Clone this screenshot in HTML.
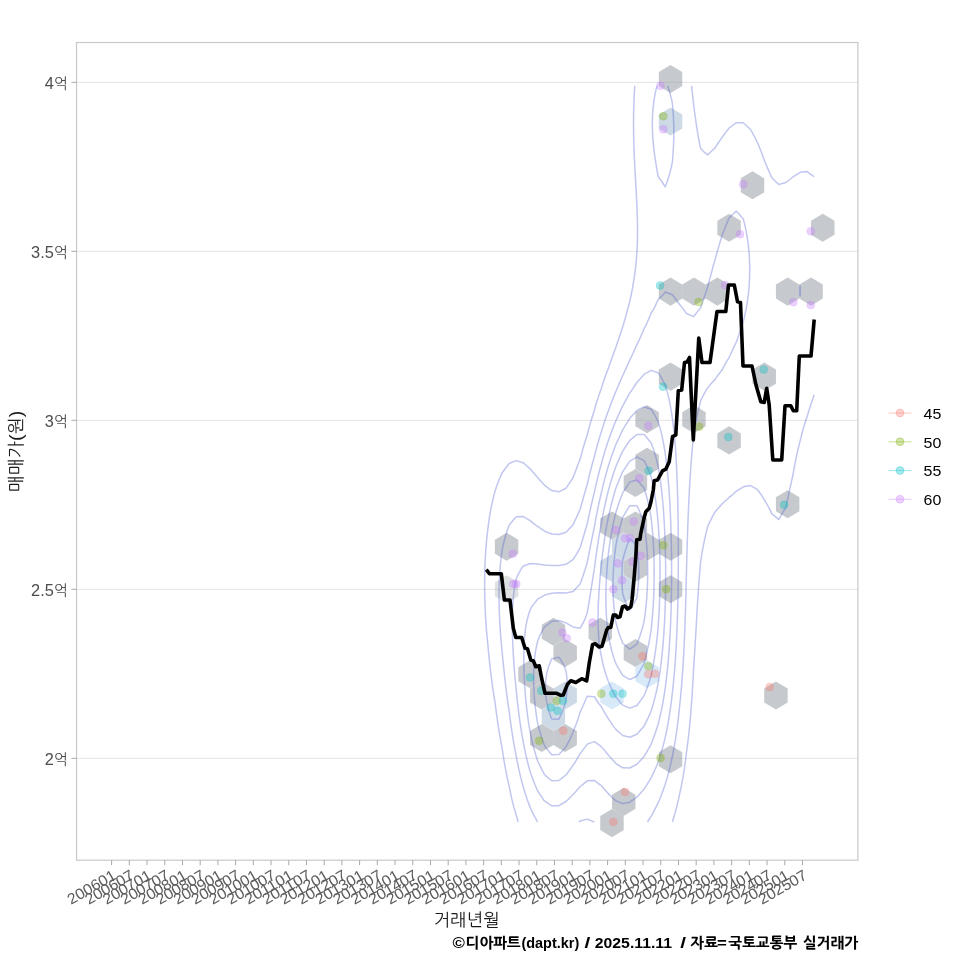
<!DOCTYPE html>
<html lang="ko"><head><meta charset="utf-8"><title>매매가 추이</title>
<style>html,body{margin:0;padding:0;background:#fff}body{width:960px;height:960px;overflow:hidden}svg{display:block}</style></head>
<body>
<svg width="960" height="960" viewBox="0 0 960 960" font-family='"Liberation Sans", "NanumGothic", "Noto Sans CJK KR", sans-serif'>
<rect width="960" height="960" fill="#fff"/>
<line x1="76.55" x2="857.9" y1="82.3" y2="82.3" stroke="#e3e3e3" stroke-width="1"/>
<line x1="76.55" x2="857.9" y1="251.3" y2="251.3" stroke="#e3e3e3" stroke-width="1"/>
<line x1="76.55" x2="857.9" y1="420.3" y2="420.3" stroke="#e3e3e3" stroke-width="1"/>
<line x1="76.55" x2="857.9" y1="589.3" y2="589.3" stroke="#e3e3e3" stroke-width="1"/>
<line x1="76.55" x2="857.9" y1="758.3" y2="758.3" stroke="#e3e3e3" stroke-width="1"/>
<clipPath id="pc"><rect x="76.55" y="42.5" width="781.35" height="817.7"/></clipPath>
<g clip-path="url(#pc)">
<polygon points="670.54,64.95 682.26,71.97 682.26,86.03 670.54,93.05 658.82,86.03 658.82,71.97" fill="#8d949b" fill-opacity="0.5"/>
<polygon points="670.54,107.47 682.26,114.5 682.26,128.55 670.54,135.57 658.82,128.55 658.82,114.5" fill="#9db5cc" fill-opacity="0.5"/>
<polygon points="752.51,171.25 764.23,178.28 764.23,192.33 752.51,199.35 740.79,192.33 740.79,178.28" fill="#8d949b" fill-opacity="0.5"/>
<polygon points="729.09,213.77 740.81,220.8 740.81,234.85 729.09,241.87 717.37,234.85 717.37,220.8" fill="#8d949b" fill-opacity="0.5"/>
<polygon points="822.77,213.77 834.49,220.8 834.49,234.85 822.77,241.87 811.05,234.85 811.05,220.8" fill="#8d949b" fill-opacity="0.5"/>
<polygon points="670.54,277.55 682.26,284.58 682.26,298.62 670.54,305.65 658.82,298.62 658.82,284.58" fill="#8d949b" fill-opacity="0.5"/>
<polygon points="693.96,277.55 705.68,284.58 705.68,298.62 693.96,305.65 682.24,298.62 682.24,284.58" fill="#8d949b" fill-opacity="0.5"/>
<polygon points="717.38,277.55 729.1,284.58 729.1,298.62 717.38,305.65 705.66,298.62 705.66,284.58" fill="#8d949b" fill-opacity="0.5"/>
<polygon points="787.64,277.55 799.36,284.58 799.36,298.62 787.64,305.65 775.92,298.62 775.92,284.58" fill="#8d949b" fill-opacity="0.5"/>
<polygon points="811.06,277.55 822.78,284.58 822.78,298.62 811.06,305.65 799.34,298.62 799.34,284.58" fill="#8d949b" fill-opacity="0.5"/>
<polygon points="670.54,362.59 682.26,369.62 682.26,383.67 670.54,390.69 658.82,383.67 658.82,369.62" fill="#8d949b" fill-opacity="0.5"/>
<polygon points="764.22,362.59 775.94,369.62 775.94,383.67 764.22,390.69 752.5,383.67 752.5,369.62" fill="#8d949b" fill-opacity="0.5"/>
<polygon points="647.12,405.11 658.84,412.14 658.84,426.19 647.12,433.21 635.4,426.19 635.4,412.14" fill="#8d949b" fill-opacity="0.5"/>
<polygon points="693.96,405.11 705.68,412.14 705.68,426.19 693.96,433.21 682.24,426.19 682.24,412.14" fill="#8d949b" fill-opacity="0.5"/>
<polygon points="729.09,426.37 740.81,433.4 740.81,447.44 729.09,454.47 717.37,447.44 717.37,433.4" fill="#8d949b" fill-opacity="0.5"/>
<polygon points="647.12,447.63 658.84,454.66 658.84,468.7 647.12,475.73 635.4,468.7 635.4,454.66" fill="#8d949b" fill-opacity="0.5"/>
<polygon points="635.41,468.89 647.13,475.92 647.13,489.97 635.41,496.99 623.69,489.97 623.69,475.92" fill="#8d949b" fill-opacity="0.5"/>
<polygon points="787.64,490.15 799.36,497.18 799.36,511.23 787.64,518.25 775.92,511.23 775.92,497.18" fill="#8d949b" fill-opacity="0.5"/>
<polygon points="611.99,511.41 623.71,518.44 623.71,532.49 611.99,539.51 600.27,532.49 600.27,518.44" fill="#8d949b" fill-opacity="0.5"/>
<polygon points="635.41,511.41 647.13,518.44 647.13,532.49 635.41,539.51 623.69,532.49 623.69,518.44" fill="#8d949b" fill-opacity="0.5"/>
<polygon points="506.6,532.67 518.32,539.7 518.32,553.75 506.6,560.77 494.88,553.75 494.88,539.7" fill="#8d949b" fill-opacity="0.5"/>
<polygon points="623.7,532.67 635.42,539.7 635.42,553.75 623.7,560.77 611.98,553.75 611.98,539.7" fill="#9db5cc" fill-opacity="0.5"/>
<polygon points="647.12,532.67 658.84,539.7 658.84,553.75 647.12,560.77 635.4,553.75 635.4,539.7" fill="#8d949b" fill-opacity="0.5"/>
<polygon points="670.54,532.67 682.26,539.7 682.26,553.75 670.54,560.77 658.82,553.75 658.82,539.7" fill="#8d949b" fill-opacity="0.5"/>
<polygon points="611.99,553.93 623.71,560.96 623.71,575 611.99,582.03 600.27,575 600.27,560.96" fill="#9db5cc" fill-opacity="0.5"/>
<polygon points="635.41,553.93 647.13,560.96 647.13,575 635.41,582.03 623.69,575 623.69,560.96" fill="#8d949b" fill-opacity="0.5"/>
<polygon points="506.6,575.19 518.32,582.22 518.32,596.26 506.6,603.29 494.88,596.26 494.88,582.22" fill="#8d949b" fill-opacity="0.28"/>
<polygon points="623.7,575.19 635.42,582.22 635.42,596.26 623.7,603.29 611.98,596.26 611.98,582.22" fill="#9db5cc" fill-opacity="0.5"/>
<polygon points="670.54,575.19 682.26,582.22 682.26,596.26 670.54,603.29 658.82,596.26 658.82,582.22" fill="#8d949b" fill-opacity="0.5"/>
<polygon points="553.44,617.71 565.16,624.74 565.16,638.78 553.44,645.81 541.72,638.78 541.72,624.74" fill="#8d949b" fill-opacity="0.5"/>
<polygon points="600.28,617.71 612,624.74 612,638.78 600.28,645.81 588.56,638.78 588.56,624.74" fill="#8d949b" fill-opacity="0.5"/>
<polygon points="565.15,638.97 576.87,646 576.87,660.05 565.15,667.07 553.43,660.05 553.43,646" fill="#8d949b" fill-opacity="0.5"/>
<polygon points="635.41,638.97 647.13,646 647.13,660.05 635.41,667.07 623.69,660.05 623.69,646" fill="#8d949b" fill-opacity="0.5"/>
<polygon points="530.02,660.23 541.74,667.26 541.74,681.31 530.02,688.33 518.3,681.31 518.3,667.26" fill="#8d949b" fill-opacity="0.5"/>
<polygon points="647.12,660.23 658.84,667.26 658.84,681.31 647.12,688.33 635.4,681.31 635.4,667.26" fill="#a9d0f0" fill-opacity="0.45"/>
<polygon points="541.73,681.49 553.45,688.52 553.45,702.57 541.73,709.59 530.01,702.57 530.01,688.52" fill="#8d949b" fill-opacity="0.5"/>
<polygon points="565.15,681.49 576.87,688.52 576.87,702.57 565.15,709.59 553.43,702.57 553.43,688.52" fill="#9db5cc" fill-opacity="0.5"/>
<polygon points="611.99,681.49 623.71,688.52 623.71,702.57 611.99,709.59 600.27,702.57 600.27,688.52" fill="#a9d0f0" fill-opacity="0.45"/>
<polygon points="775.93,681.49 787.65,688.52 787.65,702.57 775.93,709.59 764.21,702.57 764.21,688.52" fill="#8d949b" fill-opacity="0.5"/>
<polygon points="553.44,702.75 565.16,709.78 565.16,723.83 553.44,730.85 541.72,723.83 541.72,709.78" fill="#9db5cc" fill-opacity="0.5"/>
<polygon points="541.73,724.01 553.45,731.04 553.45,745.09 541.73,752.11 530.01,745.09 530.01,731.04" fill="#8d949b" fill-opacity="0.5"/>
<polygon points="565.15,724.01 576.87,731.04 576.87,745.09 565.15,752.11 553.43,745.09 553.43,731.04" fill="#8d949b" fill-opacity="0.5"/>
<polygon points="670.54,745.27 682.26,752.3 682.26,766.35 670.54,773.37 658.82,766.35 658.82,752.3" fill="#8d949b" fill-opacity="0.5"/>
<polygon points="623.7,787.79 635.42,794.82 635.42,808.87 623.7,815.89 611.98,808.87 611.98,794.82" fill="#8d949b" fill-opacity="0.5"/>
<polygon points="611.99,809.05 623.71,816.08 623.71,830.12 611.99,837.15 600.27,830.12 600.27,816.08" fill="#8d949b" fill-opacity="0.5"/>
<path d="M691.58 85.8 L692.43 93.24 L693.21 100.67 L693.62 104.8 L694.08 108.11 L695.09 115.55 L696.14 122.98 L697.25 130.42 L698.51 137.85 L699.98 145.29 L700.71 148.53 L704.79 152.73 L707.81 154.94 L709.84 152.73 L714.9 148.12 L716.63 145.29 L721.77 137.85 L721.99 137.56 L727.25 130.42 L729.08 128.11 L735.78 122.98 L736.18 122.68 L743.27 122.74 L743.56 122.98 L750.36 129.19 L751.09 130.42 L755.17 137.85 L757.46 142.5 L758.64 145.29 L761.58 152.73 L764.28 160.16 L764.55 160.96 L767.43 167.6 L770.6 175.04 L771.64 177.49 L776.63 182.47 L778.74 184.41 L785.83 182.5 L785.86 182.47 L792.92 176.99 L795.85 175.04 L800.01 172.37 L807.11 171.58 L811.94 175.04 L814.2 176.76 M814.2 394.69 L813.01 398.13 L810.54 405.56 L808.17 413 L807.11 416.52 L805.78 420.44 L803.5 427.87 L801.49 435.31 L800.01 441.45 L799.65 442.75 L797.79 450.18 L796.15 457.62 L794.7 465.05 L793.38 472.49 L792.92 475.29 L791.83 479.93 L790.16 487.36 L788.53 494.8 L786.91 502.24 L785.83 507.21 L784.46 509.67 L780.18 517.11 L778.74 519.59 L776 517.11 L771.64 513.6 L769.86 509.67 L765.87 502.24 L764.55 500.11 L761.28 494.8 L757.46 489.72 L753.77 487.36 L750.36 485.54 L743.27 486.8 L742.48 487.36 L736.18 491.43 L732.33 494.8 L729.08 497.43 L723.92 502.24 L721.99 503.96 L716.99 509.67 L714.9 512.11 L712.19 517.11 L708.53 524.55 L707.81 526.15 L706.31 531.98 L704.61 539.42 L703.1 546.85 L701.77 554.29 L700.71 560.87 L700.63 561.73 L699.97 569.16 L699.36 576.6 L698.81 584.04 L698.3 591.47 L697.82 598.91 L697.36 606.35 L696.92 613.78 L696.49 621.22 L696.06 628.65 L695.63 636.09 L695.19 643.53 L694.74 650.96 L694.26 658.4 L693.76 665.84 L693.62 667.77 L693.35 673.27 L692.95 680.71 L692.52 688.15 L692.06 695.58 L691.55 703.02 L690.99 710.45 L690.37 717.89 L689.69 725.33 L688.93 732.76 L688.08 740.2 L687.12 747.64 L686.53 751.88 L686.16 755.07 L685.23 762.51 L684.17 769.95 L682.97 777.38 L681.61 784.82 L680.04 792.25 L679.43 794.93 L678.42 799.69 L676.66 807.13 L674.64 814.56 L672.34 821.92 L672.31 822 M518.15 822 L516.3 815.51 L516.01 814.56 L513.85 807.13 L511.98 799.69 L510.34 792.25 L509.2 786.49 L508.81 784.82 L507.15 777.38 L505.67 769.95 L504.34 762.51 L503.13 755.07 L502.11 748.31 L501.98 747.64 L500.6 740.2 L499.33 732.76 L498.16 725.33 L497.07 717.89 L496.05 710.45 L495.08 703.02 L495.02 702.49 L493.9 695.58 L492.79 688.15 L491.76 680.71 L490.82 673.27 L489.95 665.84 L489.16 658.4 L488.44 650.96 L487.93 645.17 L487.74 643.53 L487.01 636.09 L486.37 628.65 L485.84 621.22 L485.41 613.78 L485.07 606.35 L484.83 598.91 L484.68 591.47 L484.63 584.04 L484.69 576.6 L484.84 569.16 L485.11 561.73 L485.5 554.29 L486.02 546.85 L486.67 539.42 L487.49 531.98 L487.93 528.62 L488.42 524.55 L489.48 517.11 L490.75 509.67 L492.27 502.24 L494.07 494.8 L495.02 491.35 L496.3 487.36 L499.03 479.93 L502.11 472.88 L502.37 472.49 L507.92 465.05 L509.2 463.49 L516.3 460.59 L523.39 462.92 L525.78 465.05 L530.48 469.18 L533.27 472.49 L537.58 477.52 L539.7 479.93 L544.67 485.36 L547.29 487.36 L551.76 490.53 L558.85 491.86 L565.95 488.27 L566.59 487.36 L571.62 479.93 L573.04 477.77 L574.99 472.49 L577.8 465.05 L580.13 459.14 L580.54 457.62 L582.54 450.18 L584.72 442.75 L587.13 435.31 L587.23 435.02 L589.03 427.87 L591.12 420.44 L593.47 413 L594.32 410.46 L595.69 405.56 L597.95 398.13 L600.49 390.69 L601.41 388.13 L602.97 383.25 L605.5 375.82 L608.3 368.38 L608.51 367.83 L610.86 360.95 L613.55 353.51 L615.6 348.06 L616.29 346.07 L618.78 338.64 L621.3 331.2 L622.69 327 L623.68 323.76 L625.81 316.33 L627.83 308.89 L629.74 301.45 L629.78 301.29 L631.35 294.02 L632.77 286.58 L634 279.15 L635.06 271.71 L635.93 264.27 L636.61 256.84 L636.88 252.82 L637.1 249.4 L637.4 241.96 L637.54 234.53 L637.53 227.09 L637.41 219.65 L637.18 212.22 L636.88 204.78 L636.88 204.67 L636.5 197.35 L636.09 189.91 L635.66 182.47 L635.23 175.04 L634.83 167.6 L634.47 160.16 L634.15 152.73 L633.89 145.29 L633.7 137.85 L633.58 130.42 L633.54 122.98 L633.59 115.55 L633.72 108.11 L633.97 100.67 L634.32 93.24 L634.78 85.8 M667.73 85.8 L670.02 93.24 L671.84 100.67 L672.34 103.35 L672.82 108.11 L673.36 115.55 L673.68 122.98 L673.82 130.42 L673.76 137.85 L673.53 145.29 L673.12 152.73 L672.54 160.16 L672.34 162.16 L671.21 167.6 L669.28 175.04 L666.88 182.47 L665.25 186.81 L662.43 182.47 L658.16 176.46 L657.89 175.04 L656.57 167.6 L655.36 160.16 L654.31 152.73 L653.46 145.29 L652.82 137.85 L652.44 130.42 L652.33 122.98 L652.53 115.55 L653.05 108.11 L653.94 100.67 L655.22 93.24 L656.93 85.8 M799.88 286.58 L800.01 285.93 L800.16 286.58 L800.3 294.02 L800.01 295.93 L799.65 294.02 L799.88 286.58 M537.7 822 L537.58 821.85 L533.55 814.56 L530.48 808.17 L530.06 807.13 L527.26 799.69 L524.83 792.25 L523.39 787.3 L522.68 784.82 L520.71 777.38 L518.98 769.95 L517.45 762.51 L516.3 756.35 L516.03 755.07 L514.59 747.64 L513.29 740.2 L512.1 732.76 L511.01 725.33 L509.99 717.89 L509.2 711.78 L509 710.45 L507.93 703.02 L506.93 695.58 L505.99 688.15 L505.11 680.71 L504.28 673.27 L503.49 665.84 L502.74 658.4 L502.11 651.71 L502.03 650.96 L501.32 643.53 L500.7 636.09 L500.16 628.65 L499.72 621.22 L499.38 613.78 L499.14 606.35 L499.03 598.91 L499.04 591.47 L499.2 584.04 L499.51 576.6 L499.99 569.16 L500.66 561.73 L501.54 554.29 L502.11 550.45 L502.79 546.85 L504.53 539.42 L506.71 531.98 L509.2 525.09 L509.59 524.55 L515.92 517.11 L516.3 516.72 L523.39 516.52 L524.3 517.11 L530.48 520.81 L534.99 524.55 L537.58 526.49 L544.67 531.23 L546.46 531.98 L551.76 533.99 L558.85 534.55 L565.95 532.24 L566.22 531.98 L573.04 524.87 L573.2 524.55 L576.61 517.11 L579.94 509.67 L580.13 509.22 L582.07 502.24 L584.18 494.8 L586.38 487.36 L587.23 484.58 L588.28 479.93 L590.05 472.49 L591.98 465.05 L594.09 457.62 L594.32 456.83 L595.97 450.18 L597.99 442.75 L600.24 435.31 L601.41 431.68 L602.55 427.87 L604.92 420.44 L607.55 413 L608.51 410.4 L610.28 405.56 L613.14 398.13 L615.6 392.12 L616.21 390.69 L619.37 383.25 L622.64 375.82 L622.69 375.7 L626.05 368.38 L629.4 360.95 L629.78 360.06 L632.93 353.51 L636.25 346.07 L636.88 344.55 L639.8 338.64 L643.05 331.2 L643.97 328.84 L646.63 323.76 L649.91 316.33 L651.06 313.25 L653.76 308.89 L657.4 301.45 L658.16 299.55 L663.73 294.02 L665.25 292.02 L670.36 294.02 L672.34 294.82 L677.48 301.45 L679.43 304.21 L683.28 308.89 L686.53 313.56 L693.17 316.33 L693.62 316.58 L693.84 316.33 L699.7 308.89 L700.71 307.47 L702.81 301.45 L705.28 294.02 L707.68 286.58 L707.81 286.23 L709.73 279.15 L711.72 271.71 L713.72 264.27 L714.9 260.1 L715.8 256.84 L717.93 249.4 L720.08 241.96 L721.99 235.55 L722.39 234.53 L725.39 227.09 L728.41 219.65 L729.08 218.09 L735.05 212.22 L736.18 211.12 L737.41 212.22 L743.27 218.92 L743.49 219.65 L745.33 227.09 L746.8 234.53 L747.93 241.96 L748.77 249.4 L749.34 256.84 L749.64 264.27 L749.7 271.71 L749.51 279.15 L749.08 286.58 L748.39 294.02 L747.43 301.45 L746.18 308.89 L744.62 316.33 L743.27 321.68 L742.63 323.76 L740.18 331.2 L737.53 338.64 L736.18 342.23 L734.34 346.07 L730.9 353.51 L729.08 357.55 L727 360.95 L722.87 368.38 L721.99 370.03 L717.53 375.82 L714.9 379.63 L711.47 383.25 L707.81 387.63 L705.91 390.69 L701.89 398.13 L700.71 400.5 L699.48 405.56 L697.78 413 L696.23 420.44 L694.82 427.87 L693.62 434.69 L693.56 435.31 L692.84 442.75 L692.17 450.18 L691.55 457.62 L690.98 465.05 L690.46 472.49 L689.98 479.93 L689.54 487.36 L689.14 494.8 L688.78 502.24 L688.45 509.67 L688.15 517.11 L687.87 524.55 L687.61 531.98 L687.37 539.42 L687.14 546.85 L686.92 554.29 L686.71 561.73 L686.53 567.82 L686.5 569.16 L686.33 576.6 L686.16 584.04 L685.98 591.47 L685.79 598.91 L685.58 606.35 L685.36 613.78 L685.11 621.22 L684.84 628.65 L684.54 636.09 L684.22 643.53 L683.86 650.96 L683.46 658.4 L683.02 665.84 L682.53 673.27 L681.98 680.71 L681.38 688.15 L680.71 695.58 L679.96 703.02 L679.43 707.73 L679.17 710.45 L678.37 717.89 L677.48 725.33 L676.47 732.76 L675.34 740.2 L674.06 747.64 L672.62 755.07 L672.34 756.41 L671.06 762.51 L669.3 769.95 L667.31 777.38 L665.25 784.24 L665.05 784.82 L662.43 792.25 L659.48 799.69 L658.16 802.81 L656.01 807.13 L652.09 814.56 L651.06 816.44 L647.46 822 M594.35 822 L594.32 821.97 L587.23 819.1 L580.13 821.06 L578.82 822 M642.88 375.82 L643.97 374.44 L651.06 370.4 L658.16 372.67 L660.34 375.82 L664.38 383.25 L665.25 385.25 L666.94 390.69 L668.85 398.13 L670.37 405.56 L671.6 413 L672.34 418.33 L672.64 420.44 L673.58 427.87 L674.36 435.31 L675.03 442.75 L675.58 450.18 L676.06 457.62 L676.46 465.05 L676.81 472.49 L677.1 479.93 L677.35 487.36 L677.57 494.8 L677.75 502.24 L677.91 509.67 L678.04 517.11 L678.15 524.55 L678.23 531.98 L678.29 539.42 L678.32 546.85 L678.34 554.29 L678.33 561.73 L678.3 569.16 L678.25 576.6 L678.16 584.04 L678.06 591.47 L677.92 598.91 L677.75 606.35 L677.54 613.78 L677.31 621.22 L677.03 628.65 L676.71 636.09 L676.34 643.53 L675.92 650.96 L675.45 658.4 L674.92 665.84 L674.32 673.27 L673.65 680.71 L672.89 688.15 L672.34 692.97 L672.05 695.58 L671.16 703.02 L670.14 710.45 L669 717.89 L667.71 725.33 L666.26 732.76 L665.25 737.44 L664.59 740.2 L662.65 747.64 L660.47 755.07 L658.16 762.12 L658 762.51 L654.86 769.95 L651.4 777.38 L651.06 778.07 L646.84 784.82 L643.97 789.25 L641.27 792.25 L636.88 797.21 L633.25 799.69 L629.78 802.18 L622.69 803.54 L615.6 800.6 L614.62 799.69 L608.51 793.85 L607.11 792.25 L601.41 785.76 L600.2 784.82 L594.32 780.44 L587.23 780.83 L582.41 784.82 L580.13 786.52 L575.16 792.25 L573.04 794.45 L567.88 799.69 L565.95 801.5 L558.85 805.67 L551.76 805.86 L544.67 801.23 L543.54 799.69 L538.51 792.25 L537.58 790.75 L534.99 784.82 L532.13 777.38 L530.48 772.57 L529.7 769.95 L527.68 762.51 L525.91 755.07 L524.34 747.64 L523.39 742.65 L522.92 740.2 L521.61 732.76 L520.44 725.33 L519.39 717.89 L518.44 710.45 L517.57 703.02 L516.78 695.58 L516.3 690.65 L516.03 688.15 L515.3 680.71 L514.65 673.27 L514.07 665.84 L513.55 658.4 L513.11 650.96 L512.75 643.53 L512.47 636.09 L512.3 628.65 L512.25 621.22 L512.35 613.78 L512.64 606.35 L513.17 598.91 L513.99 591.47 L515.17 584.04 L516.3 578.81 L517.12 576.6 L521.03 569.16 L523.39 565.98 L530.48 563.54 L537.58 564.03 L544.67 564.92 L551.76 565.49 L558.85 565.51 L565.95 564.29 L570.09 561.73 L573.04 559.7 L576.39 554.29 L580.13 547.57 L580.36 546.85 L582.62 539.42 L584.83 531.98 L587.01 524.55 L587.23 523.81 L588.64 517.11 L590.26 509.67 L591.96 502.24 L593.77 494.8 L594.32 492.66 L595.45 487.36 L597.14 479.93 L598.99 472.49 L601.02 465.05 L601.41 463.68 L603.05 457.62 L605.22 450.18 L607.62 442.75 L608.51 440.14 L610.2 435.31 L612.97 427.87 L615.6 421.31 L615.99 420.44 L619.35 413 L622.69 405.89 L622.88 405.56 L627 398.13 L629.78 392.98 L631.44 390.69 L636.36 383.25 L636.88 382.4 L642.88 375.82 M634.71 413 L636.88 410.43 L643.97 406.82 L651.06 409.29 L653.59 413 L657.59 420.44 L658.16 421.7 L660.02 427.87 L661.89 435.31 L663.43 442.75 L664.71 450.18 L665.25 453.8 L665.79 457.62 L666.72 465.05 L667.53 472.49 L668.22 479.93 L668.83 487.36 L669.35 494.8 L669.8 502.24 L670.19 509.67 L670.52 517.11 L670.8 524.55 L671.04 531.98 L671.23 539.42 L671.38 546.85 L671.49 554.29 L671.57 561.73 L671.6 569.16 L671.59 576.6 L671.55 584.04 L671.47 591.47 L671.34 598.91 L671.17 606.35 L670.95 613.78 L670.68 621.22 L670.36 628.65 L669.98 636.09 L669.54 643.53 L669.03 650.96 L668.45 658.4 L667.79 665.84 L667.03 673.27 L666.18 680.71 L665.25 687.9 L665.21 688.15 L664.08 695.58 L662.8 703.02 L661.35 710.45 L659.72 717.89 L658.16 724.24 L657.82 725.33 L655.4 732.76 L652.68 740.2 L651.06 744.3 L649.23 747.64 L644.92 755.07 L643.97 756.66 L638.51 762.51 L636.88 764.27 L629.78 768.02 L622.69 767.77 L615.6 763.25 L614.92 762.51 L608.51 755.29 L608.32 755.07 L602.18 747.64 L601.41 746.66 L594.32 741.66 L587.23 744.09 L584.74 747.64 L580.13 753.57 L579.33 755.07 L574.91 762.51 L573.04 765.31 L569.85 769.95 L565.95 775.02 L563.01 777.38 L558.85 780.52 L551.76 780.76 L547.65 777.38 L544.67 774.75 L542.01 769.95 L538.37 762.51 L537.58 760.71 L535.77 755.07 L533.67 747.64 L531.85 740.2 L530.48 733.83 L530.28 732.76 L529 725.33 L527.89 717.89 L526.93 710.45 L526.11 703.02 L525.42 695.58 L524.84 688.15 L524.38 680.71 L524.04 673.27 L523.83 665.84 L523.75 658.4 L523.84 650.96 L524.12 643.53 L524.65 636.09 L525.51 628.65 L526.82 621.22 L528.76 613.78 L530.48 609.08 L531.98 606.35 L537.58 599.24 L538.04 598.91 L544.67 595.05 L551.76 593.22 L558.85 592.81 L565.95 592.93 L573.04 591.52 L573.09 591.47 L580.01 584.04 L580.13 583.89 L582.78 576.6 L585.2 569.16 L587.23 562.49 L587.38 561.73 L588.84 554.29 L590.3 546.85 L591.78 539.42 L593.31 531.98 L594.32 527.28 L594.79 524.55 L596.15 517.11 L597.61 509.67 L599.17 502.24 L600.87 494.8 L601.41 492.58 L602.61 487.36 L604.45 479.93 L606.46 472.49 L608.51 465.57 L608.67 465.05 L611.1 457.62 L613.74 450.18 L615.6 445.25 L616.72 442.75 L620.11 435.31 L622.69 429.86 L623.94 427.87 L628.52 420.44 L629.78 418.33 L634.71 413 M635.95 435.31 L636.88 434.48 L643.97 434.41 L644.88 435.31 L650.98 442.75 L651.06 442.86 L653.76 450.18 L655.97 457.62 L657.78 465.05 L658.16 466.83 L659.15 472.49 L660.28 479.93 L661.25 487.36 L662.09 494.8 L662.8 502.24 L663.4 509.67 L663.92 517.11 L664.36 524.55 L664.72 531.98 L665.02 539.42 L665.25 546.43 L665.26 546.85 L665.45 554.29 L665.59 561.73 L665.66 569.16 L665.68 576.6 L665.64 584.04 L665.54 591.47 L665.39 598.91 L665.25 603.8 L665.18 606.35 L664.91 613.78 L664.57 621.22 L664.16 628.65 L663.67 636.09 L663.09 643.53 L662.42 650.96 L661.65 658.4 L660.76 665.84 L659.76 673.27 L658.61 680.71 L658.16 683.36 L657.17 688.15 L655.46 695.58 L653.52 703.02 L651.33 710.45 L651.06 711.3 L648.12 717.89 L644.45 725.33 L643.97 726.26 L638.23 732.76 L636.88 734.26 L629.78 737.21 L622.69 735.49 L619.53 732.76 L615.6 729.15 L612.79 725.33 L608.51 718.94 L607.81 717.89 L603.3 710.45 L601.41 706.87 L598.33 703.02 L594.32 696.75 L587.23 696.26 L584.28 703.02 L580.95 710.45 L580.13 712.12 L578.37 717.89 L575.77 725.33 L573.04 732.15 L572.8 732.76 L569.41 740.2 L565.95 746.79 L565.24 747.64 L558.85 754.47 L551.76 754.67 L545.89 747.64 L544.67 745.95 L542.52 740.2 L540.15 732.76 L538.15 725.33 L537.58 722.8 L536.73 717.89 L535.68 710.45 L534.85 703.02 L534.23 695.58 L533.83 688.15 L533.64 680.71 L533.68 673.27 L533.99 665.84 L534.6 658.4 L535.59 650.96 L537.04 643.53 L537.58 641.46 L539.58 636.09 L543.42 628.65 L544.67 626.75 L551.76 621.37 L553.01 621.22 L558.85 620.55 L561.07 621.22 L565.95 622.9 L573.04 626.93 L580.13 628.33 L584.02 621.22 L586.94 613.78 L587.23 613 L588.34 606.35 L589.56 598.91 L590.74 591.47 L591.91 584.04 L593.08 576.6 L594.27 569.16 L594.32 568.9 L595.25 561.73 L596.27 554.29 L597.36 546.85 L598.51 539.42 L599.75 531.98 L601.1 524.55 L601.41 522.93 L602.47 517.11 L603.94 509.67 L605.53 502.24 L607.29 494.8 L608.51 490.02 L609.24 487.36 L611.42 479.93 L613.79 472.49 L615.6 467.19 L616.5 465.05 L619.75 457.62 L622.69 451.18 L623.35 450.18 L628.25 442.75 L629.78 440.37 L635.95 435.31 M635.88 457.62 L636.88 457 L638.29 457.62 L643.97 460.58 L646.39 465.05 L649.66 472.49 L651.06 476.39 L651.92 479.93 L653.49 487.36 L654.8 494.8 L655.91 502.24 L656.83 509.67 L657.61 517.11 L658.16 523.35 L658.25 524.55 L658.76 531.98 L659.17 539.42 L659.5 546.85 L659.74 554.29 L659.91 561.73 L660 569.16 L660.02 576.6 L659.96 584.04 L659.83 591.47 L659.63 598.91 L659.35 606.35 L658.99 613.78 L658.54 621.22 L658.16 626.58 L657.99 628.65 L657.29 636.09 L656.46 643.53 L655.49 650.96 L654.37 658.4 L653.08 665.84 L651.6 673.27 L651.06 675.71 L649.54 680.71 L647 688.15 L644.11 695.58 L643.97 695.92 L638.77 703.02 L636.88 705.43 L629.78 708.17 L622.69 705.18 L620.8 703.02 L615.6 696.52 L615.08 695.58 L611.3 688.15 L608.51 681.69 L608.11 680.71 L605.46 673.27 L603.37 665.84 L601.75 658.4 L601.41 656.49 L600.3 650.96 L599.25 643.53 L598.57 636.09 L598.19 628.65 L598.04 621.22 L598.08 613.78 L598.26 606.35 L598.58 598.91 L599 591.47 L599.53 584.04 L600.15 576.6 L600.86 569.16 L601.41 564.18 L601.65 561.73 L602.5 554.29 L603.44 546.85 L604.49 539.42 L605.65 531.98 L606.94 524.55 L608.37 517.11 L608.51 516.47 L610.05 509.67 L611.9 502.24 L613.91 494.8 L615.6 489.07 L616.24 487.36 L619.19 479.93 L622.31 472.49 L622.69 471.62 L627.14 465.05 L629.78 461.13 L635.88 457.62 M553.03 658.4 L558.85 657.21 L559.84 658.4 L564.16 665.84 L565.95 670.94 L566.42 673.27 L567.14 680.71 L567.17 688.15 L566.61 695.58 L565.95 700.12 L565.29 703.02 L562.81 710.45 L559.57 717.89 L558.85 719.21 L551.76 718.97 L551.28 717.89 L548.7 710.45 L546.85 703.02 L545.73 695.58 L545.32 688.15 L545.65 680.71 L546.78 673.27 L548.81 665.84 L551.76 658.72 L553.03 658.4 M636.65 479.93 L636.88 479.85 L636.96 479.93 L643.4 487.36 L643.97 488.18 L646.1 494.8 L648.07 502.24 L649.66 509.67 L650.96 517.11 L651.06 517.79 L651.84 524.55 L652.54 531.98 L653.1 539.42 L653.54 546.85 L653.86 554.29 L654.07 561.73 L654.17 569.16 L654.18 576.6 L654.08 584.04 L653.89 591.47 L653.59 598.91 L653.18 606.35 L652.66 613.78 L652.02 621.22 L651.25 628.65 L651.06 630.18 L650.14 636.09 L648.78 643.53 L647.19 650.96 L645.33 658.4 L643.97 663.22 L642.7 665.84 L638.65 673.27 L636.88 676.2 L629.78 679.53 L622.69 675.3 L621.39 673.27 L617.09 665.84 L615.6 662.92 L614.02 658.4 L611.81 650.96 L610.01 643.53 L608.59 636.09 L608.51 635.57 L607.55 628.65 L606.8 621.22 L606.29 613.78 L605.99 606.35 L605.88 598.91 L605.94 591.47 L606.14 584.04 L606.49 576.6 L606.98 569.16 L607.59 561.73 L608.34 554.29 L608.51 552.95 L609.3 546.85 L610.42 539.42 L611.68 531.98 L613.11 524.55 L614.7 517.11 L615.6 513.32 L616.74 509.67 L619.24 502.24 L621.94 494.8 L622.69 492.84 L626.32 487.36 L629.78 482.16 L636.65 479.93 M627.31 509.67 L629.78 505.63 L636.88 505.86 L638.84 509.67 L641.89 517.11 L643.97 523.67 L644.13 524.55 L645.24 531.98 L646.11 539.42 L646.78 546.85 L647.25 554.29 L647.55 561.73 L647.69 569.16 L647.67 576.6 L647.49 584.04 L647.16 591.47 L646.67 598.91 L646 606.35 L645.16 613.78 L644.12 621.22 L643.97 622.13 L642.25 628.65 L639.9 636.09 L637.11 643.53 L636.88 644.09 L629.78 649.17 L623.12 643.53 L622.69 643.12 L619.95 636.09 L617.56 628.65 L615.65 621.22 L615.6 620.98 L614.59 613.78 L613.83 606.35 L613.33 598.91 L613.06 591.47 L613.01 584.04 L613.16 576.6 L613.51 569.16 L614.04 561.73 L614.75 554.29 L615.6 547.18 L615.65 546.85 L617.11 539.42 L618.79 531.98 L620.68 524.55 L622.69 517.47 L622.89 517.11 L627.31 509.67 M629.33 539.42 L629.78 538.39 L631.05 539.42 L636.88 546.36 L636.97 546.85 L637.93 554.29 L638.52 561.73 L638.78 569.16 L638.72 576.6 L638.36 584.04 L637.69 591.47 L636.88 597.6 L636.34 598.91 L632.35 606.35 L629.78 610.16 L627.58 606.35 L624.31 598.91 L622.69 593.51 L622.47 591.47 L622 584.04 L621.88 576.6 L622.07 569.16 L622.56 561.73 L622.69 560.51 L624.22 554.29 L626.56 546.85 L629.33 539.42" fill="none" stroke="#4c5fd0" stroke-opacity="0.35" stroke-width="1.5" stroke-linejoin="round"/>
<circle cx="660.5" cy="85.8" r="4.0" fill="#C77CFF" fill-opacity="0.35" stroke="#C77CFF" stroke-opacity="0.2" stroke-width="0.8"/>
<circle cx="663.3" cy="116.3" r="4.0" fill="#7CAE00" fill-opacity="0.35" stroke="#7CAE00" stroke-opacity="0.2" stroke-width="0.8"/>
<circle cx="663.3" cy="129.2" r="4.0" fill="#C77CFF" fill-opacity="0.35" stroke="#C77CFF" stroke-opacity="0.2" stroke-width="0.8"/>
<circle cx="743.3" cy="184.2" r="4.0" fill="#C77CFF" fill-opacity="0.35" stroke="#C77CFF" stroke-opacity="0.2" stroke-width="0.8"/>
<circle cx="740" cy="234.2" r="4.0" fill="#C77CFF" fill-opacity="0.35" stroke="#C77CFF" stroke-opacity="0.2" stroke-width="0.8"/>
<circle cx="810.8" cy="231.3" r="4.0" fill="#C77CFF" fill-opacity="0.35" stroke="#C77CFF" stroke-opacity="0.2" stroke-width="0.8"/>
<circle cx="725" cy="285" r="4.0" fill="#C77CFF" fill-opacity="0.35" stroke="#C77CFF" stroke-opacity="0.2" stroke-width="0.8"/>
<circle cx="793.3" cy="302.2" r="4.0" fill="#C77CFF" fill-opacity="0.35" stroke="#C77CFF" stroke-opacity="0.2" stroke-width="0.8"/>
<circle cx="810.8" cy="305" r="4.0" fill="#C77CFF" fill-opacity="0.35" stroke="#C77CFF" stroke-opacity="0.2" stroke-width="0.8"/>
<circle cx="698.7" cy="302" r="4.0" fill="#7CAE00" fill-opacity="0.35" stroke="#7CAE00" stroke-opacity="0.2" stroke-width="0.8"/>
<circle cx="660" cy="285.5" r="4.0" fill="#00BFC4" fill-opacity="0.35" stroke="#00BFC4" stroke-opacity="0.2" stroke-width="0.8"/>
<circle cx="663" cy="386.7" r="4.0" fill="#00BFC4" fill-opacity="0.35" stroke="#00BFC4" stroke-opacity="0.2" stroke-width="0.8"/>
<circle cx="763.7" cy="369.5" r="4.0" fill="#00BFC4" fill-opacity="0.35" stroke="#00BFC4" stroke-opacity="0.2" stroke-width="0.8"/>
<circle cx="648.3" cy="425.8" r="4.0" fill="#C77CFF" fill-opacity="0.35" stroke="#C77CFF" stroke-opacity="0.2" stroke-width="0.8"/>
<circle cx="699.2" cy="426.7" r="4.0" fill="#7CAE00" fill-opacity="0.35" stroke="#7CAE00" stroke-opacity="0.2" stroke-width="0.8"/>
<circle cx="728.3" cy="437" r="4.0" fill="#00BFC4" fill-opacity="0.35" stroke="#00BFC4" stroke-opacity="0.2" stroke-width="0.8"/>
<circle cx="648.7" cy="470.8" r="4.0" fill="#00BFC4" fill-opacity="0.35" stroke="#00BFC4" stroke-opacity="0.2" stroke-width="0.8"/>
<circle cx="639.2" cy="478.3" r="4.0" fill="#C77CFF" fill-opacity="0.35" stroke="#C77CFF" stroke-opacity="0.2" stroke-width="0.8"/>
<circle cx="784.2" cy="504.7" r="4.0" fill="#00BFC4" fill-opacity="0.35" stroke="#00BFC4" stroke-opacity="0.2" stroke-width="0.8"/>
<circle cx="633.7" cy="521.5" r="4.0" fill="#C77CFF" fill-opacity="0.35" stroke="#C77CFF" stroke-opacity="0.2" stroke-width="0.8"/>
<circle cx="615.8" cy="530" r="4.0" fill="#C77CFF" fill-opacity="0.35" stroke="#C77CFF" stroke-opacity="0.2" stroke-width="0.8"/>
<circle cx="625" cy="538.3" r="4.0" fill="#C77CFF" fill-opacity="0.35" stroke="#C77CFF" stroke-opacity="0.2" stroke-width="0.8"/>
<circle cx="630" cy="538.3" r="4.0" fill="#C77CFF" fill-opacity="0.35" stroke="#C77CFF" stroke-opacity="0.2" stroke-width="0.8"/>
<circle cx="663.3" cy="545.3" r="4.0" fill="#7CAE00" fill-opacity="0.35" stroke="#7CAE00" stroke-opacity="0.2" stroke-width="0.8"/>
<circle cx="640.8" cy="555.8" r="4.0" fill="#C77CFF" fill-opacity="0.35" stroke="#C77CFF" stroke-opacity="0.2" stroke-width="0.8"/>
<circle cx="618" cy="563.3" r="4.0" fill="#C77CFF" fill-opacity="0.35" stroke="#C77CFF" stroke-opacity="0.2" stroke-width="0.8"/>
<circle cx="632.5" cy="561.7" r="4.0" fill="#C77CFF" fill-opacity="0.35" stroke="#C77CFF" stroke-opacity="0.2" stroke-width="0.8"/>
<circle cx="622" cy="580.3" r="4.0" fill="#C77CFF" fill-opacity="0.35" stroke="#C77CFF" stroke-opacity="0.2" stroke-width="0.8"/>
<circle cx="613.3" cy="589.2" r="4.0" fill="#C77CFF" fill-opacity="0.35" stroke="#C77CFF" stroke-opacity="0.2" stroke-width="0.8"/>
<circle cx="666.2" cy="589.2" r="4.0" fill="#7CAE00" fill-opacity="0.35" stroke="#7CAE00" stroke-opacity="0.2" stroke-width="0.8"/>
<circle cx="592.5" cy="622.5" r="4.0" fill="#C77CFF" fill-opacity="0.35" stroke="#C77CFF" stroke-opacity="0.2" stroke-width="0.8"/>
<circle cx="512.8" cy="553.7" r="4.0" fill="#C77CFF" fill-opacity="0.35" stroke="#C77CFF" stroke-opacity="0.2" stroke-width="0.8"/>
<circle cx="513.3" cy="584" r="4.0" fill="#C77CFF" fill-opacity="0.35" stroke="#C77CFF" stroke-opacity="0.2" stroke-width="0.8"/>
<circle cx="516.3" cy="584" r="4.0" fill="#C77CFF" fill-opacity="0.35" stroke="#C77CFF" stroke-opacity="0.2" stroke-width="0.8"/>
<circle cx="562.5" cy="632.5" r="4.0" fill="#C77CFF" fill-opacity="0.35" stroke="#C77CFF" stroke-opacity="0.2" stroke-width="0.8"/>
<circle cx="566.7" cy="638.3" r="4.0" fill="#C77CFF" fill-opacity="0.35" stroke="#C77CFF" stroke-opacity="0.2" stroke-width="0.8"/>
<circle cx="530" cy="677.5" r="4.0" fill="#00BFC4" fill-opacity="0.35" stroke="#00BFC4" stroke-opacity="0.2" stroke-width="0.8"/>
<circle cx="541.3" cy="690.8" r="4.0" fill="#00BFC4" fill-opacity="0.35" stroke="#00BFC4" stroke-opacity="0.2" stroke-width="0.8"/>
<circle cx="556.7" cy="700.8" r="4.0" fill="#7CAE00" fill-opacity="0.35" stroke="#7CAE00" stroke-opacity="0.2" stroke-width="0.8"/>
<circle cx="563" cy="700.8" r="4.0" fill="#00BFC4" fill-opacity="0.35" stroke="#00BFC4" stroke-opacity="0.2" stroke-width="0.8"/>
<circle cx="550.8" cy="707.5" r="4.0" fill="#00BFC4" fill-opacity="0.35" stroke="#00BFC4" stroke-opacity="0.2" stroke-width="0.8"/>
<circle cx="557.5" cy="710.8" r="4.0" fill="#00BFC4" fill-opacity="0.35" stroke="#00BFC4" stroke-opacity="0.2" stroke-width="0.8"/>
<circle cx="563.3" cy="730.8" r="4.0" fill="#F8766D" fill-opacity="0.35" stroke="#F8766D" stroke-opacity="0.2" stroke-width="0.8"/>
<circle cx="539.2" cy="740.8" r="4.0" fill="#7CAE00" fill-opacity="0.35" stroke="#7CAE00" stroke-opacity="0.2" stroke-width="0.8"/>
<circle cx="601.3" cy="693.8" r="4.0" fill="#7CAE00" fill-opacity="0.35" stroke="#7CAE00" stroke-opacity="0.2" stroke-width="0.8"/>
<circle cx="613.3" cy="693.8" r="4.0" fill="#00BFC4" fill-opacity="0.35" stroke="#00BFC4" stroke-opacity="0.2" stroke-width="0.8"/>
<circle cx="622.5" cy="693.8" r="4.0" fill="#00BFC4" fill-opacity="0.35" stroke="#00BFC4" stroke-opacity="0.2" stroke-width="0.8"/>
<circle cx="642.5" cy="656.3" r="4.0" fill="#F8766D" fill-opacity="0.35" stroke="#F8766D" stroke-opacity="0.2" stroke-width="0.8"/>
<circle cx="648.3" cy="666.3" r="4.0" fill="#7CAE00" fill-opacity="0.35" stroke="#7CAE00" stroke-opacity="0.2" stroke-width="0.8"/>
<circle cx="648.3" cy="674.2" r="4.0" fill="#F8766D" fill-opacity="0.35" stroke="#F8766D" stroke-opacity="0.2" stroke-width="0.8"/>
<circle cx="655" cy="673.7" r="4.0" fill="#F8766D" fill-opacity="0.35" stroke="#F8766D" stroke-opacity="0.2" stroke-width="0.8"/>
<circle cx="660.5" cy="758" r="4.0" fill="#7CAE00" fill-opacity="0.35" stroke="#7CAE00" stroke-opacity="0.2" stroke-width="0.8"/>
<circle cx="625" cy="792" r="4.0" fill="#F8766D" fill-opacity="0.35" stroke="#F8766D" stroke-opacity="0.2" stroke-width="0.8"/>
<circle cx="613.3" cy="822" r="4.0" fill="#F8766D" fill-opacity="0.35" stroke="#F8766D" stroke-opacity="0.2" stroke-width="0.8"/>
<circle cx="769.7" cy="687" r="4.0" fill="#F8766D" fill-opacity="0.35" stroke="#F8766D" stroke-opacity="0.2" stroke-width="0.8"/>
<polyline points="486.3,569.7 489.4,573.7 501.3,573.7 504.4,600 510,600 513.3,628.3 515.8,637.5 521.7,637.5 525,648.3 527.5,648.7 530.8,660 533.3,660.8 535.8,666.7 539.2,665.8 541.7,678.3 545,693.3 556.7,693.3 560.8,695.3 563.3,695 567.5,684.2 570.8,680.8 575.8,682.5 581.7,678.7 586.7,680.8 589.2,663.3 592.5,644.7 595,643.7 599.2,647 602,646.3 606.7,630 608.3,627.5 610.8,627.5 613.3,615 615.8,615 617.5,617.5 620,616.7 622.5,606.7 625,606 627.5,609 630.8,606.7 632,600 634.2,576.7 635.8,556.7 636.7,539.7 640,539.2 640.8,533.3 644.2,517.5 645.8,511.7 649.2,508.3 650.8,502.5 653.3,490 654.2,480.8 657.5,480 662.5,470.8 665.8,469.2 669.2,461.7 672.5,436.7 675.8,435 678.3,390.8 681.7,390 684.5,362.5 687,362 689.5,357.5 693.3,440 698.75,338 702,362.5 710,362.5 717,311.5 725.8,311.5 728.5,285 734.3,285 737.5,301.7 740.5,302.5 743,366 752,366 756,385 760.8,401.7 764.2,402.5 766.7,388.3 769.2,405 772.8,460 781.7,460 785,405.8 790.8,405.8 793.3,410.8 796.7,410.8 799.3,356 811,356 814.2,319.5" fill="none" stroke="#000" stroke-width="3.6" stroke-linejoin="round" stroke-linecap="butt"/>
</g>
<rect x="76.55" y="42.5" width="781.35" height="817.7" fill="none" stroke="#c8c8c8" stroke-width="1.2"/>
<line x1="71.4" x2="76.55" y1="82.3" y2="82.3" stroke="#a8a8a8" stroke-width="1"/>
<text y="89.1" font-size="15.4" fill="#4d4d4d"><tspan x="44.79" font-size="16.02" textLength="9.1" lengthAdjust="spacingAndGlyphs">4</tspan><tspan x="53.89" textLength="14.11" lengthAdjust="spacingAndGlyphs">억</tspan></text>
<line x1="71.4" x2="76.55" y1="251.3" y2="251.3" stroke="#a8a8a8" stroke-width="1"/>
<text y="258.1" font-size="15.4" fill="#4d4d4d"><tspan x="31.14" font-size="16.02" textLength="22.75" lengthAdjust="spacingAndGlyphs">3.5</tspan><tspan x="53.89" textLength="14.11" lengthAdjust="spacingAndGlyphs">억</tspan></text>
<line x1="71.4" x2="76.55" y1="420.3" y2="420.3" stroke="#a8a8a8" stroke-width="1"/>
<text y="427.1" font-size="15.4" fill="#4d4d4d"><tspan x="44.79" font-size="16.02" textLength="9.1" lengthAdjust="spacingAndGlyphs">3</tspan><tspan x="53.89" textLength="14.11" lengthAdjust="spacingAndGlyphs">억</tspan></text>
<line x1="71.4" x2="76.55" y1="589.3" y2="589.3" stroke="#a8a8a8" stroke-width="1"/>
<text y="596.1" font-size="15.4" fill="#4d4d4d"><tspan x="31.14" font-size="16.02" textLength="22.75" lengthAdjust="spacingAndGlyphs">2.5</tspan><tspan x="53.89" textLength="14.11" lengthAdjust="spacingAndGlyphs">억</tspan></text>
<line x1="71.4" x2="76.55" y1="758.3" y2="758.3" stroke="#a8a8a8" stroke-width="1"/>
<text y="765.1" font-size="15.4" fill="#4d4d4d"><tspan x="44.79" font-size="16.02" textLength="9.1" lengthAdjust="spacingAndGlyphs">2</tspan><tspan x="53.89" textLength="14.11" lengthAdjust="spacingAndGlyphs">억</tspan></text>
<line x1="111.6" x2="111.6" y1="860.2" y2="865.2" stroke="#a8a8a8" stroke-width="1"/>
<text y="10.9" font-size="14.67" fill="#5c5c5c" transform="translate(111.8,868.8) rotate(-30)"><tspan x="-53.34" font-size="15.26" textLength="53.34" lengthAdjust="spacingAndGlyphs">200601</tspan></text>
<line x1="129.31" x2="129.31" y1="860.2" y2="865.2" stroke="#a8a8a8" stroke-width="1"/>
<text y="10.9" font-size="14.67" fill="#5c5c5c" transform="translate(129.51,868.8) rotate(-30)"><tspan x="-53.34" font-size="15.26" textLength="53.34" lengthAdjust="spacingAndGlyphs">200607</tspan></text>
<line x1="147.03" x2="147.03" y1="860.2" y2="865.2" stroke="#a8a8a8" stroke-width="1"/>
<text y="10.9" font-size="14.67" fill="#5c5c5c" transform="translate(147.23,868.8) rotate(-30)"><tspan x="-53.34" font-size="15.26" textLength="53.34" lengthAdjust="spacingAndGlyphs">200701</tspan></text>
<line x1="164.75" x2="164.75" y1="860.2" y2="865.2" stroke="#a8a8a8" stroke-width="1"/>
<text y="10.9" font-size="14.67" fill="#5c5c5c" transform="translate(164.94,868.8) rotate(-30)"><tspan x="-53.34" font-size="15.26" textLength="53.34" lengthAdjust="spacingAndGlyphs">200707</tspan></text>
<line x1="182.46" x2="182.46" y1="860.2" y2="865.2" stroke="#a8a8a8" stroke-width="1"/>
<text y="10.9" font-size="14.67" fill="#5c5c5c" transform="translate(182.66,868.8) rotate(-30)"><tspan x="-53.34" font-size="15.26" textLength="53.34" lengthAdjust="spacingAndGlyphs">200801</tspan></text>
<line x1="200.18" x2="200.18" y1="860.2" y2="865.2" stroke="#a8a8a8" stroke-width="1"/>
<text y="10.9" font-size="14.67" fill="#5c5c5c" transform="translate(200.38,868.8) rotate(-30)"><tspan x="-53.34" font-size="15.26" textLength="53.34" lengthAdjust="spacingAndGlyphs">200807</tspan></text>
<line x1="217.89" x2="217.89" y1="860.2" y2="865.2" stroke="#a8a8a8" stroke-width="1"/>
<text y="10.9" font-size="14.67" fill="#5c5c5c" transform="translate(218.09,868.8) rotate(-30)"><tspan x="-53.34" font-size="15.26" textLength="53.34" lengthAdjust="spacingAndGlyphs">200901</tspan></text>
<line x1="235.6" x2="235.6" y1="860.2" y2="865.2" stroke="#a8a8a8" stroke-width="1"/>
<text y="10.9" font-size="14.67" fill="#5c5c5c" transform="translate(235.8,868.8) rotate(-30)"><tspan x="-53.34" font-size="15.26" textLength="53.34" lengthAdjust="spacingAndGlyphs">200907</tspan></text>
<line x1="253.32" x2="253.32" y1="860.2" y2="865.2" stroke="#a8a8a8" stroke-width="1"/>
<text y="10.9" font-size="14.67" fill="#5c5c5c" transform="translate(253.52,868.8) rotate(-30)"><tspan x="-53.34" font-size="15.26" textLength="53.34" lengthAdjust="spacingAndGlyphs">201001</tspan></text>
<line x1="271.03" x2="271.03" y1="860.2" y2="865.2" stroke="#a8a8a8" stroke-width="1"/>
<text y="10.9" font-size="14.67" fill="#5c5c5c" transform="translate(271.23,868.8) rotate(-30)"><tspan x="-53.34" font-size="15.26" textLength="53.34" lengthAdjust="spacingAndGlyphs">201007</tspan></text>
<line x1="288.75" x2="288.75" y1="860.2" y2="865.2" stroke="#a8a8a8" stroke-width="1"/>
<text y="10.9" font-size="14.67" fill="#5c5c5c" transform="translate(288.95,868.8) rotate(-30)"><tspan x="-53.34" font-size="15.26" textLength="53.34" lengthAdjust="spacingAndGlyphs">201101</tspan></text>
<line x1="306.47" x2="306.47" y1="860.2" y2="865.2" stroke="#a8a8a8" stroke-width="1"/>
<text y="10.9" font-size="14.67" fill="#5c5c5c" transform="translate(306.67,868.8) rotate(-30)"><tspan x="-53.34" font-size="15.26" textLength="53.34" lengthAdjust="spacingAndGlyphs">201107</tspan></text>
<line x1="324.18" x2="324.18" y1="860.2" y2="865.2" stroke="#a8a8a8" stroke-width="1"/>
<text y="10.9" font-size="14.67" fill="#5c5c5c" transform="translate(324.38,868.8) rotate(-30)"><tspan x="-53.34" font-size="15.26" textLength="53.34" lengthAdjust="spacingAndGlyphs">201201</tspan></text>
<line x1="341.89" x2="341.89" y1="860.2" y2="865.2" stroke="#a8a8a8" stroke-width="1"/>
<text y="10.9" font-size="14.67" fill="#5c5c5c" transform="translate(342.09,868.8) rotate(-30)"><tspan x="-53.34" font-size="15.26" textLength="53.34" lengthAdjust="spacingAndGlyphs">201207</tspan></text>
<line x1="359.61" x2="359.61" y1="860.2" y2="865.2" stroke="#a8a8a8" stroke-width="1"/>
<text y="10.9" font-size="14.67" fill="#5c5c5c" transform="translate(359.81,868.8) rotate(-30)"><tspan x="-53.34" font-size="15.26" textLength="53.34" lengthAdjust="spacingAndGlyphs">201301</tspan></text>
<line x1="377.33" x2="377.33" y1="860.2" y2="865.2" stroke="#a8a8a8" stroke-width="1"/>
<text y="10.9" font-size="14.67" fill="#5c5c5c" transform="translate(377.53,868.8) rotate(-30)"><tspan x="-53.34" font-size="15.26" textLength="53.34" lengthAdjust="spacingAndGlyphs">201307</tspan></text>
<line x1="395.04" x2="395.04" y1="860.2" y2="865.2" stroke="#a8a8a8" stroke-width="1"/>
<text y="10.9" font-size="14.67" fill="#5c5c5c" transform="translate(395.24,868.8) rotate(-30)"><tspan x="-53.34" font-size="15.26" textLength="53.34" lengthAdjust="spacingAndGlyphs">201401</tspan></text>
<line x1="412.75" x2="412.75" y1="860.2" y2="865.2" stroke="#a8a8a8" stroke-width="1"/>
<text y="10.9" font-size="14.67" fill="#5c5c5c" transform="translate(412.95,868.8) rotate(-30)"><tspan x="-53.34" font-size="15.26" textLength="53.34" lengthAdjust="spacingAndGlyphs">201407</tspan></text>
<line x1="430.47" x2="430.47" y1="860.2" y2="865.2" stroke="#a8a8a8" stroke-width="1"/>
<text y="10.9" font-size="14.67" fill="#5c5c5c" transform="translate(430.67,868.8) rotate(-30)"><tspan x="-53.34" font-size="15.26" textLength="53.34" lengthAdjust="spacingAndGlyphs">201501</tspan></text>
<line x1="448.18" x2="448.18" y1="860.2" y2="865.2" stroke="#a8a8a8" stroke-width="1"/>
<text y="10.9" font-size="14.67" fill="#5c5c5c" transform="translate(448.38,868.8) rotate(-30)"><tspan x="-53.34" font-size="15.26" textLength="53.34" lengthAdjust="spacingAndGlyphs">201507</tspan></text>
<line x1="465.9" x2="465.9" y1="860.2" y2="865.2" stroke="#a8a8a8" stroke-width="1"/>
<text y="10.9" font-size="14.67" fill="#5c5c5c" transform="translate(466.1,868.8) rotate(-30)"><tspan x="-53.34" font-size="15.26" textLength="53.34" lengthAdjust="spacingAndGlyphs">201601</tspan></text>
<line x1="483.62" x2="483.62" y1="860.2" y2="865.2" stroke="#a8a8a8" stroke-width="1"/>
<text y="10.9" font-size="14.67" fill="#5c5c5c" transform="translate(483.81,868.8) rotate(-30)"><tspan x="-53.34" font-size="15.26" textLength="53.34" lengthAdjust="spacingAndGlyphs">201607</tspan></text>
<line x1="501.33" x2="501.33" y1="860.2" y2="865.2" stroke="#a8a8a8" stroke-width="1"/>
<text y="10.9" font-size="14.67" fill="#5c5c5c" transform="translate(501.53,868.8) rotate(-30)"><tspan x="-53.34" font-size="15.26" textLength="53.34" lengthAdjust="spacingAndGlyphs">201701</tspan></text>
<line x1="519.04" x2="519.04" y1="860.2" y2="865.2" stroke="#a8a8a8" stroke-width="1"/>
<text y="10.9" font-size="14.67" fill="#5c5c5c" transform="translate(519.25,868.8) rotate(-30)"><tspan x="-53.34" font-size="15.26" textLength="53.34" lengthAdjust="spacingAndGlyphs">201707</tspan></text>
<line x1="536.76" x2="536.76" y1="860.2" y2="865.2" stroke="#a8a8a8" stroke-width="1"/>
<text y="10.9" font-size="14.67" fill="#5c5c5c" transform="translate(536.96,868.8) rotate(-30)"><tspan x="-53.34" font-size="15.26" textLength="53.34" lengthAdjust="spacingAndGlyphs">201801</tspan></text>
<line x1="554.48" x2="554.48" y1="860.2" y2="865.2" stroke="#a8a8a8" stroke-width="1"/>
<text y="10.9" font-size="14.67" fill="#5c5c5c" transform="translate(554.68,868.8) rotate(-30)"><tspan x="-53.34" font-size="15.26" textLength="53.34" lengthAdjust="spacingAndGlyphs">201807</tspan></text>
<line x1="572.19" x2="572.19" y1="860.2" y2="865.2" stroke="#a8a8a8" stroke-width="1"/>
<text y="10.9" font-size="14.67" fill="#5c5c5c" transform="translate(572.39,868.8) rotate(-30)"><tspan x="-53.34" font-size="15.26" textLength="53.34" lengthAdjust="spacingAndGlyphs">201901</tspan></text>
<line x1="589.9" x2="589.9" y1="860.2" y2="865.2" stroke="#a8a8a8" stroke-width="1"/>
<text y="10.9" font-size="14.67" fill="#5c5c5c" transform="translate(590.11,868.8) rotate(-30)"><tspan x="-53.34" font-size="15.26" textLength="53.34" lengthAdjust="spacingAndGlyphs">201907</tspan></text>
<line x1="607.62" x2="607.62" y1="860.2" y2="865.2" stroke="#a8a8a8" stroke-width="1"/>
<text y="10.9" font-size="14.67" fill="#5c5c5c" transform="translate(607.82,868.8) rotate(-30)"><tspan x="-53.34" font-size="15.26" textLength="53.34" lengthAdjust="spacingAndGlyphs">202001</tspan></text>
<line x1="625.34" x2="625.34" y1="860.2" y2="865.2" stroke="#a8a8a8" stroke-width="1"/>
<text y="10.9" font-size="14.67" fill="#5c5c5c" transform="translate(625.54,868.8) rotate(-30)"><tspan x="-53.34" font-size="15.26" textLength="53.34" lengthAdjust="spacingAndGlyphs">202007</tspan></text>
<line x1="643.05" x2="643.05" y1="860.2" y2="865.2" stroke="#a8a8a8" stroke-width="1"/>
<text y="10.9" font-size="14.67" fill="#5c5c5c" transform="translate(643.25,868.8) rotate(-30)"><tspan x="-53.34" font-size="15.26" textLength="53.34" lengthAdjust="spacingAndGlyphs">202101</tspan></text>
<line x1="660.76" x2="660.76" y1="860.2" y2="865.2" stroke="#a8a8a8" stroke-width="1"/>
<text y="10.9" font-size="14.67" fill="#5c5c5c" transform="translate(660.97,868.8) rotate(-30)"><tspan x="-53.34" font-size="15.26" textLength="53.34" lengthAdjust="spacingAndGlyphs">202107</tspan></text>
<line x1="678.48" x2="678.48" y1="860.2" y2="865.2" stroke="#a8a8a8" stroke-width="1"/>
<text y="10.9" font-size="14.67" fill="#5c5c5c" transform="translate(678.68,868.8) rotate(-30)"><tspan x="-53.34" font-size="15.26" textLength="53.34" lengthAdjust="spacingAndGlyphs">202201</tspan></text>
<line x1="696.2" x2="696.2" y1="860.2" y2="865.2" stroke="#a8a8a8" stroke-width="1"/>
<text y="10.9" font-size="14.67" fill="#5c5c5c" transform="translate(696.4,868.8) rotate(-30)"><tspan x="-53.34" font-size="15.26" textLength="53.34" lengthAdjust="spacingAndGlyphs">202207</tspan></text>
<line x1="713.91" x2="713.91" y1="860.2" y2="865.2" stroke="#a8a8a8" stroke-width="1"/>
<text y="10.9" font-size="14.67" fill="#5c5c5c" transform="translate(714.11,868.8) rotate(-30)"><tspan x="-53.34" font-size="15.26" textLength="53.34" lengthAdjust="spacingAndGlyphs">202301</tspan></text>
<line x1="731.62" x2="731.62" y1="860.2" y2="865.2" stroke="#a8a8a8" stroke-width="1"/>
<text y="10.9" font-size="14.67" fill="#5c5c5c" transform="translate(731.83,868.8) rotate(-30)"><tspan x="-53.34" font-size="15.26" textLength="53.34" lengthAdjust="spacingAndGlyphs">202307</tspan></text>
<line x1="749.34" x2="749.34" y1="860.2" y2="865.2" stroke="#a8a8a8" stroke-width="1"/>
<text y="10.9" font-size="14.67" fill="#5c5c5c" transform="translate(749.54,868.8) rotate(-30)"><tspan x="-53.34" font-size="15.26" textLength="53.34" lengthAdjust="spacingAndGlyphs">202401</tspan></text>
<line x1="767.06" x2="767.06" y1="860.2" y2="865.2" stroke="#a8a8a8" stroke-width="1"/>
<text y="10.9" font-size="14.67" fill="#5c5c5c" transform="translate(767.26,868.8) rotate(-30)"><tspan x="-53.34" font-size="15.26" textLength="53.34" lengthAdjust="spacingAndGlyphs">202407</tspan></text>
<line x1="784.77" x2="784.77" y1="860.2" y2="865.2" stroke="#a8a8a8" stroke-width="1"/>
<text y="10.9" font-size="14.67" fill="#5c5c5c" transform="translate(784.97,868.8) rotate(-30)"><tspan x="-53.34" font-size="15.26" textLength="53.34" lengthAdjust="spacingAndGlyphs">202501</tspan></text>
<line x1="802.49" x2="802.49" y1="860.2" y2="865.2" stroke="#a8a8a8" stroke-width="1"/>
<text y="10.9" font-size="14.67" fill="#5c5c5c" transform="translate(802.69,868.8) rotate(-30)"><tspan x="-53.34" font-size="15.26" textLength="53.34" lengthAdjust="spacingAndGlyphs">202507</tspan></text>
<text y="925.6" font-size="17.6" fill="#1a1a1a"><tspan x="433.71">거래년월</tspan></text>
<text y="0" font-size="17.6" fill="#1a1a1a" transform="translate(21.7,451.4) rotate(-90)"><tspan x="-40.66" textLength="51.12" lengthAdjust="spacingAndGlyphs">매매가</tspan><tspan x="10.46" font-size="18.3" textLength="6.58" lengthAdjust="spacingAndGlyphs">(</tspan><tspan x="17.04" textLength="17.04" lengthAdjust="spacingAndGlyphs">원</tspan><tspan x="34.08" font-size="18.3" textLength="6.58" lengthAdjust="spacingAndGlyphs">)</tspan></text>
<text y="948.4" font-size="14.67" font-weight="800" fill="#000"><tspan x="452.6" font-size="15.2" font-weight="bold" textLength="12.4" lengthAdjust="spacingAndGlyphs">©</tspan><tspan x="465.7">디아파트</tspan><tspan x="521.4" font-size="15.2" font-weight="bold" textLength="57.8" lengthAdjust="spacingAndGlyphs">(dapt.kr)</tspan> <tspan x="584.6" font-size="15.2" font-weight="bold" textLength="5.8" lengthAdjust="spacingAndGlyphs">/</tspan> <tspan x="594.8" font-size="15.2" font-weight="bold" textLength="77.2" lengthAdjust="spacingAndGlyphs">2025.11.11</tspan> <tspan x="680.3" font-size="15.2" font-weight="bold" textLength="5.8" lengthAdjust="spacingAndGlyphs">/</tspan> <tspan x="690.6">자료</tspan><tspan x="716.9" font-size="15.2" font-weight="bold" textLength="9.8" lengthAdjust="spacingAndGlyphs">=</tspan><tspan x="728.4">국토교통부</tspan> <tspan x="802.9">실거래가</tspan></text>
<line x1="888.5" x2="911.5" y1="413" y2="413" stroke="#F8766D" stroke-opacity="0.32" stroke-width="1.3"/>
<circle cx="900" cy="413" r="3.9" fill="#F8766D" fill-opacity="0.33" stroke="#F8766D" stroke-opacity="0.33" stroke-width="0.9"/>
<text y="418.8" font-size="14.67" fill="#000"><tspan x="923.6" font-size="15.26" textLength="17.78" lengthAdjust="spacingAndGlyphs">45</tspan></text>
<line x1="888.5" x2="911.5" y1="441.75" y2="441.75" stroke="#7CAE00" stroke-opacity="0.32" stroke-width="1.3"/>
<circle cx="900" cy="441.75" r="3.9" fill="#7CAE00" fill-opacity="0.33" stroke="#7CAE00" stroke-opacity="0.33" stroke-width="0.9"/>
<text y="447.55" font-size="14.67" fill="#000"><tspan x="923.6" font-size="15.26" textLength="17.78" lengthAdjust="spacingAndGlyphs">50</tspan></text>
<line x1="888.5" x2="911.5" y1="470.5" y2="470.5" stroke="#00BFC4" stroke-opacity="0.32" stroke-width="1.3"/>
<circle cx="900" cy="470.5" r="3.9" fill="#00BFC4" fill-opacity="0.33" stroke="#00BFC4" stroke-opacity="0.33" stroke-width="0.9"/>
<text y="476.3" font-size="14.67" fill="#000"><tspan x="923.6" font-size="15.26" textLength="17.78" lengthAdjust="spacingAndGlyphs">55</tspan></text>
<line x1="888.5" x2="911.5" y1="499.25" y2="499.25" stroke="#C77CFF" stroke-opacity="0.32" stroke-width="1.3"/>
<circle cx="900" cy="499.25" r="3.9" fill="#C77CFF" fill-opacity="0.33" stroke="#C77CFF" stroke-opacity="0.33" stroke-width="0.9"/>
<text y="505.05" font-size="14.67" fill="#000"><tspan x="923.6" font-size="15.26" textLength="17.78" lengthAdjust="spacingAndGlyphs">60</tspan></text>
</svg>
</body></html>
